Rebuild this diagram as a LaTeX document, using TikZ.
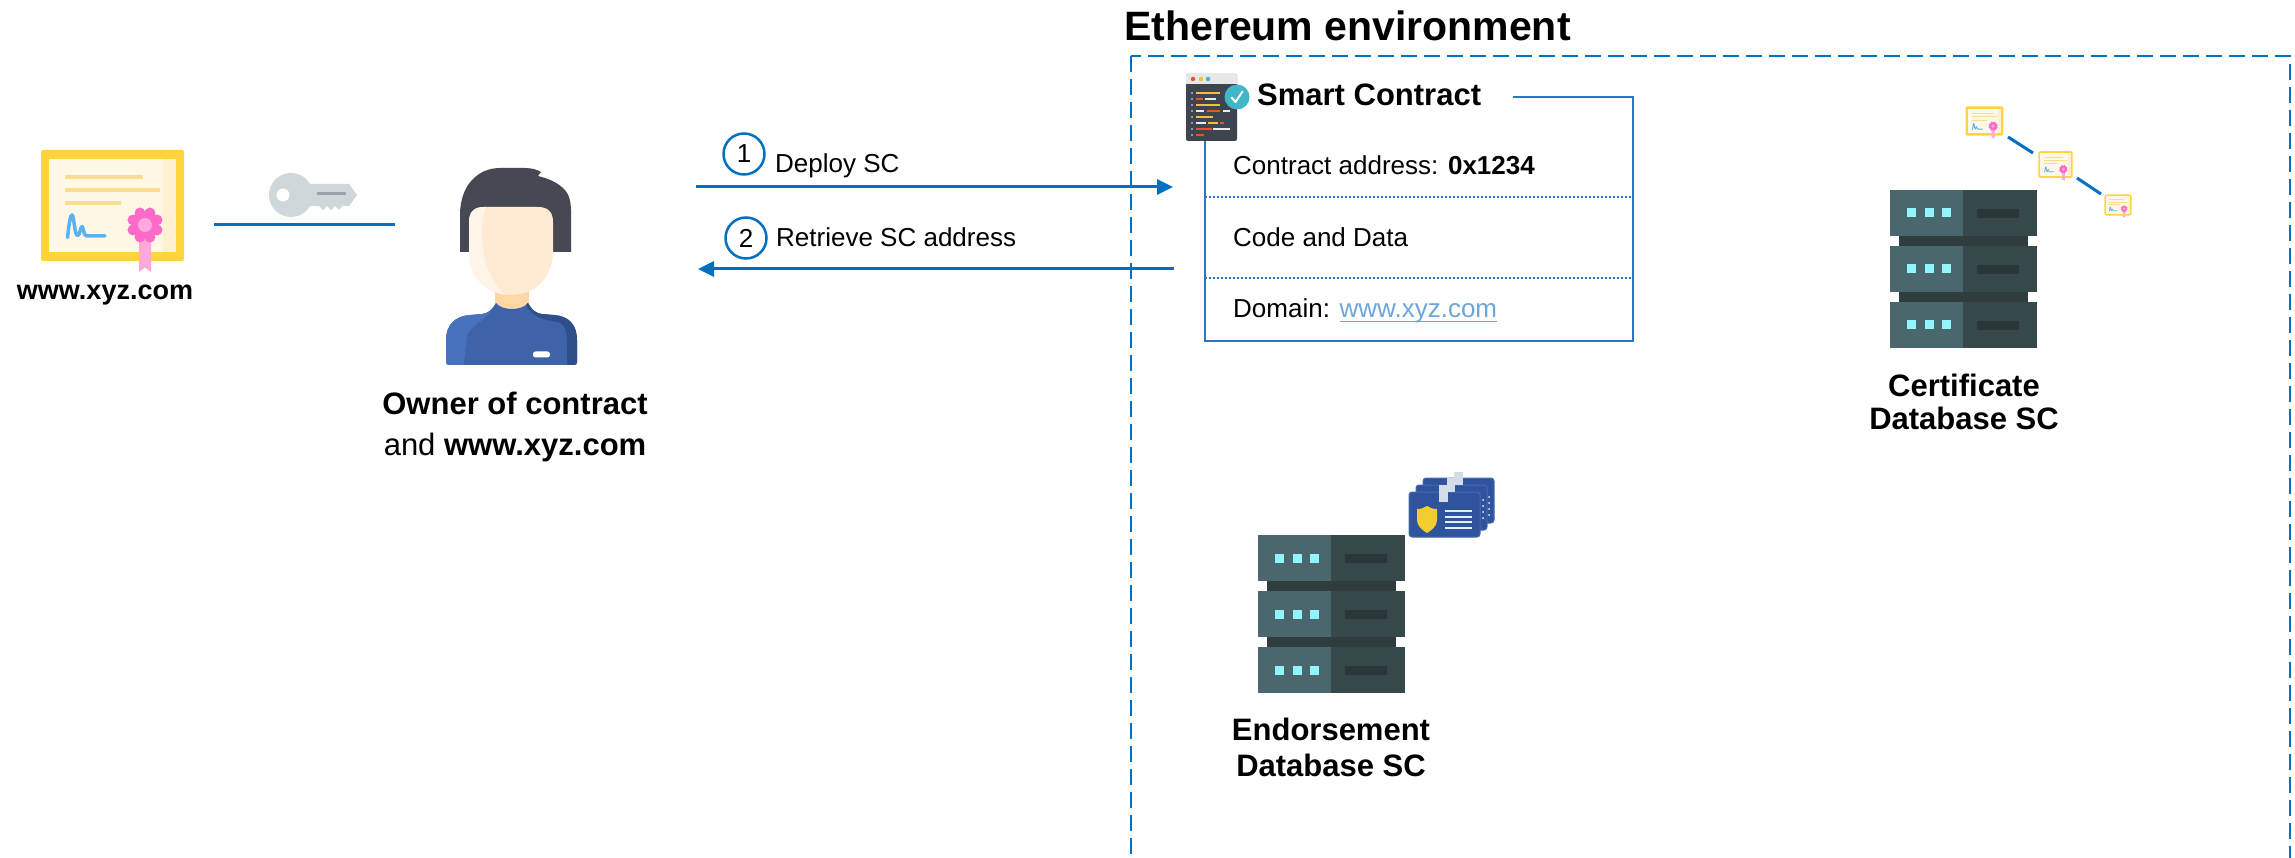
\documentclass[tikz,border=0pt]{standalone}
\usepackage{fontspec}
\setmainfont{Liberation Sans}
\usetikzlibrary{arrows.meta,positioning}

\definecolor{flowblue}{HTML}{0070C0}
\definecolor{boxblue}{HTML}{2E74C0}
\definecolor{linkblue}{HTML}{6CA6DA}
% certificate
\definecolor{certframe}{HTML}{FFD43F}
\definecolor{certpaper}{HTML}{FFF8E6}
\definecolor{certshade}{HTML}{FFF0D2}
\definecolor{certline}{HTML}{FADD8F}
\definecolor{certsign}{HTML}{58B2F4}
\definecolor{certseal}{HTML}{FF6AC9}
\definecolor{certsealin}{HTML}{FFA9DE}
\definecolor{certribbon}{HTML}{FFA8DC}
% server
\definecolor{srvlight}{HTML}{4A676D}
\definecolor{srvdark}{HTML}{37484A}
\definecolor{srvbar}{HTML}{2F3D3E}
\definecolor{srvslot}{HTML}{2A3738}
\definecolor{srvled}{HTML}{92F5FC}
% owner
\definecolor{hair}{HTML}{464953}
\definecolor{skin}{HTML}{FFEAD3}
\definecolor{skinlight}{HTML}{FFF4E8}
\definecolor{neck}{HTML}{FFD6A6}
\definecolor{shirt}{HTML}{3E63A9}
\definecolor{shirtlight}{HTML}{4772BE}
\definecolor{shirtdark}{HTML}{2F4F8A}
% key, code window, id cards
\definecolor{keygray}{HTML}{CFD7DB}
\definecolor{keygroove}{HTML}{99A4AA}
\definecolor{codebar}{HTML}{E6E7E9}
\definecolor{codebody}{HTML}{3E4551}
\definecolor{codeyellow}{HTML}{F4C033}
\definecolor{codered}{HTML}{E8522F}
\definecolor{codewhite}{HTML}{E9EAEC}
\definecolor{checkteal}{HTML}{41B6C6}
\definecolor{idblue}{HTML}{2F549D}
\definecolor{idedge}{HTML}{4868AC}
\definecolor{idclip}{HTML}{D2DDE9}
\definecolor{idbadge}{HTML}{F3CD2E}
\definecolor{idline}{HTML}{E6ECF4}

\newcommand{\weblink}[1]{\textcolor{linkblue}{\setbox0\hbox{#1}\rlap{\rule[-4pt]{\wd0}{1.3pt}}\box0}}

\tikzset{%
  envbox/.style={draw=flowblue, line width=2.5pt, dash pattern=on 16pt off 7pt},
  flow/.style={draw=flowblue, line width=3pt, -{Triangle[length=16pt, width=15pt]}},
  certlink/.style={draw=flowblue, line width=3pt},
  scbox/.style={draw=boxblue, line width=2.5pt},
  scsep/.style={draw=boxblue, line width=2.5pt, dash pattern=on 2pt off 2pt},
  stepnum/.style={circle, draw=flowblue, line width=2.5pt, minimum size=41pt, inner sep=0pt,
                  font=\fontsize{26}{30}\selectfont},
  plainlbl/.style={inner sep=0pt, font=\fontsize{26}{30}\selectfont},
  boldlbl/.style={inner sep=0pt, align=center, font=\bfseries\fontsize{31}{#1}\selectfont},
  pics/certificate/.style={code={
    \begin{scope}[scale=#1]
      \fill[certframe, rounded corners=2pt] (-71.5,-55.5) rectangle (71.5,55.5);
      \fill[certpaper] (-63.5,-46.5) rectangle (63.5,46.5);
      \fill[certshade] (50.5,-46.5) rectangle (63.5,46.5);
      \fill[certline] (-47.5,-30.5) rectangle (30.5,-26.5);
      \fill[certline] (-47.5,-17.5) rectangle (47.5,-13.5);
      \fill[certline] (-47.5,-4.5) rectangle (8.5,-0.5);
      % signature
      \draw[certsign, line width=#1*3.5pt, line cap=round, line join=round]
        (-45,32) .. controls (-43,15) and (-42,9.5) .. (-40.5,9.5)
        .. controls (-38.5,9.5) and (-38,30) .. (-35,30)
        .. controls (-32.5,30) and (-32,21) .. (-30.5,21)
        .. controls (-29,21) and (-29,30.5) .. (-26,30.5) -- (-7.5,30.5);
      % ribbon and seal
      \fill[certribbon] (26.5,30) -- (38.5,30) -- (38.5,66.5) -- (32.5,62) -- (26.5,66.5) -- cycle;
      \fill[certseal] (32.5,19.5) circle (14);
      \foreach \a in {0,45,...,315}
        \fill[certseal] (32.5,19.5) ++({\a+22.5}:13) circle (5.5);
      \fill[certsealin] (32.5,19.5) circle (7);
    \end{scope}
  }},
  pics/server/.style={code={
    \foreach \y in {0,56,112}{
      \fill[srvlight] (0,\y) rectangle (73,\y+46);
      \fill[srvdark] (73,\y) rectangle (147,\y+46);
      \fill[srvslot] (87,\y+19) rectangle (129,\y+28);
      \foreach \x in {17,35,52}
        \fill[srvled] (\x,\y+18.5) rectangle (\x+9,\y+27.5);
    }
    \foreach \y in {46,102}
      \fill[srvbar] (9,\y) rectangle (138,\y+10);
  }},
}

\begin{document}
\begin{tikzpicture}[x=1pt, y=-1pt]
    \useasboundingbox (0,0) rectangle (2295,858);

    %environment frame
    \draw[envbox] (1131,56) rectangle (2290,880);
    \node[anchor=base west, inner sep=0pt, font=\bfseries\fontsize{41}{48}\selectfont] (env) at (1124,41) {Ethereum environment};

    %domain certificate and key
    \pic (cert) at (112.5,205.5) {certificate=1};
    \node[anchor=base, inner sep=0pt, font=\bfseries\fontsize{27}{32}\selectfont] (certlbl) at (105,300) {www.xyz.com};
    \coordinate (keyW) at (214,225);
    \coordinate (keyE) at (395,225);
    \draw[certlink] (keyW) -- (keyE);

    \fill[keygray] (291,195) circle (22);
    \fill[keygray] (300,184) -- (349,184) -- (357,195) -- (349,206) -- (342,206) -- (339,210) -- (335,206)
                   -- (331,210) -- (327,206) -- (323,210) -- (319,206) -- (300,206) -- cycle;
    \fill[white] (283,195) circle (6.5);
    \draw[keygroove, line width=3pt] (317,194) -- (346,194);

    %owner
    \fill[hair] (460,252) -- (460,215) .. controls (460,185) and (478,168) .. (500,168) -- (525,168)
        .. controls (532,168) and (538,170) .. (541,172) -- (538,176)
        .. controls (555,180) and (566,188) .. (569,197) .. controls (572,205) and (571,220) .. (571,235)
        -- (571,252) -- cycle;
    \fill[neck] (495,280) rectangle (529,312);
    \begin{scope}
      \clip (469,222) .. controls (469,212) and (474,207) .. (484,207) -- (538,207)
          .. controls (548,207) and (553,212) .. (553,222) -- (553,252)
          .. controls (553,277) and (535,295) .. (511,295) .. controls (487,295) and (469,277) .. (469,252) -- cycle;
      \fill[skin] (460,200) rectangle (560,300);
      \fill[skinlight] (469,207) -- (486,207) .. controls (478,230) and (480,272) .. (506,296) -- (469,296) -- cycle;
    \end{scope}
    \begin{scope}
      \clip (446,362) -- (446,340) .. controls (446,325) and (455,316) .. (470,315) -- (482,314)
          .. controls (490,313) and (493,308) .. (496,303) .. controls (502,311) and (522,311) .. (528,303)
          .. controls (531,308) and (534,313) .. (542,314) -- (554,315)
          .. controls (569,316) and (577,325) .. (577,340) -- (577,362)
          .. controls (577,364) and (576,365) .. (574,365) -- (449,365) .. controls (447,365) and (446,364) .. (446,362) -- cycle;
      \fill[shirt] (440,300) rectangle (580,370);
      \fill[shirtlight] (497,300) .. controls (490,320) and (470,325) .. (467,335) -- (463,370) -- (440,370) -- (440,300) -- cycle;
      \fill[shirtdark] (524,300) .. controls (530,318) and (545,320) .. (558,322)
          .. controls (566,324) and (567,335) .. (567,345) -- (567,370) -- (580,370) -- (580,300) -- cycle;
    \end{scope}
    \fill[white, rounded corners=2.5pt] (533,351.5) rectangle (550,357.5);
    \node[boldlbl=40, anchor=base] (owner) at (515,455) {Owner of contract\\{\mdseries and} www.xyz.com};

    %deploy and retrieve
    \coordinate (deployW) at (696,187);
    \coordinate (deployE) at (1173,187);
    \coordinate (retrieveE) at (1174,269);
    \coordinate (retrieveW) at (698,269);
    \draw[flow] (deployW) -- (deployE);
    \draw[flow] (retrieveE) -- (retrieveW);
    \node[stepnum] (step1) at (744,154) {1};
    \node[stepnum] (step2) at (746,238) {2};
    \node[plainlbl, anchor=base west] (deploy) at (775,173) {Deploy SC};
    \node[plainlbl, anchor=base west] (retrieve) at (776,247) {Retrieve SC address};

    %smart contract box
    \coordinate (scTL) at (1513,97);
    \coordinate (scTR) at (1633,97);
    \coordinate (scBR) at (1633,341);
    \coordinate (scBL) at (1205,341);
    \coordinate (scL) at (1205,141);
    \draw[scbox] (scTL) -- (scTR) -- (scBR) -- (scBL) -- (scL);
    \draw[scsep] (1205,197) -- (1633,197);
    \draw[scsep] (1205,278) -- (1633,278);
    \node[anchor=base west, inner sep=0pt, font=\bfseries\fontsize{31}{36}\selectfont] (sctitle) at (1257,106) {Smart Contract};
    \node[plainlbl, anchor=base west] (scaddr) at (1233,175) {Contract address: \textbf{0x1234}};
    \node[plainlbl, anchor=base west] (sccode) at (1233,247) {Code and Data};
    \node[plainlbl, anchor=base west] (scdomain) at (1233,318) {Domain: \weblink{www.xyz.com}};

    %code window icon
    \fill[codebody, rounded corners=2pt] (1186,74) rectangle (1237,141);
    \fill[codebar, rounded corners=2pt] (1186,74) rectangle (1237,84);
    \fill[codebar] (1186,80) rectangle (1237,84);
    \foreach \x/\c in {1193/codered, 1201/codeyellow, 1208/checkteal}
      \fill[\c] (\x,79) circle (2.2);
    \foreach \y in {93,99,105,111,117,123,129,135}
      \fill[codewhite] (1192,\y) circle (0.9);
    \foreach \a/\b/\y/\c in {1196/1220/93/codeyellow, 1196/1203/99/codered, 1205/1216/99/codewhite,
        1196/1220/105/codeyellow, 1196/1204/111/codewhite, 1207/1220/111/codered, 1223/1230/111/codewhite,
        1196/1213/117/codeyellow, 1196/1206/123/codewhite, 1208/1218/123/codeyellow, 1220/1224/123/codered,
        1196/1212/129/codered, 1213/1230/129/codewhite, 1196/1204/135/codered}
      \draw[\c, line width=2.5pt] (\a,\y) -- (\b,\y);
    \fill[checkteal] (1237,97) circle (12.5);
    \draw[white, line width=2pt, line cap=round, line join=round] (1231.5,97.5) -- (1235.5,102) -- (1242.5,91.5);

    %certificate database
    \pic (certdb) at (1890,190) {server};
    \pic (certA) at (1984.5,121) {certificate=0.265};
    \pic (certB) at (2055.5,164.5) {certificate=0.24};
    \pic (certC) at (2118,205) {certificate=0.19};
    \coordinate (ab1) at (2008,137);
    \coordinate (ab2) at (2033,153);
    \coordinate (bc1) at (2077,178);
    \coordinate (bc2) at (2101,194);
    \draw[certlink] (ab1) -- (ab2);
    \draw[certlink] (bc1) -- (bc2);
    \node[boldlbl=33, anchor=base] (certdblbl) at (1964,430) {Certificate\\Database SC};

    %endorsement database
    \pic (enddb) at (1258,535) {server};
    \foreach \d in {14,7,0}
      \fill[idblue, draw=idedge, line width=1pt, rounded corners=3pt] (1409+\d,492-\d) rectangle (1480+\d,537-\d);
    \foreach \y in {503,509,515,521}
      \fill[idline] (1483,\y-3) circle (1) (1489,\y-6) circle (1);
    \fill[idclip] (1454,472) rectangle (1463,485);
    \fill[idclip] (1447,478) rectangle (1455,492);
    \fill[idclip] (1439,485) rectangle (1448,502);
    \fill[idbadge] (1417,509) .. controls (1421,509) and (1424,508) .. (1427,506)
        .. controls (1430,508) and (1433,509) .. (1437,509) -- (1437,520)
        .. controls (1437,526) and (1432,530) .. (1427,533) .. controls (1422,530) and (1417,526) .. (1417,520) -- cycle;
    \foreach \y in {511,517,522,528}
      \draw[idline, line width=2pt] (1445,\y) -- (1472,\y);
    \node[boldlbl=36, anchor=base] (enddblbl) at (1331,776) {Endorsement\\Database SC};
\end{tikzpicture}
\end{document}
